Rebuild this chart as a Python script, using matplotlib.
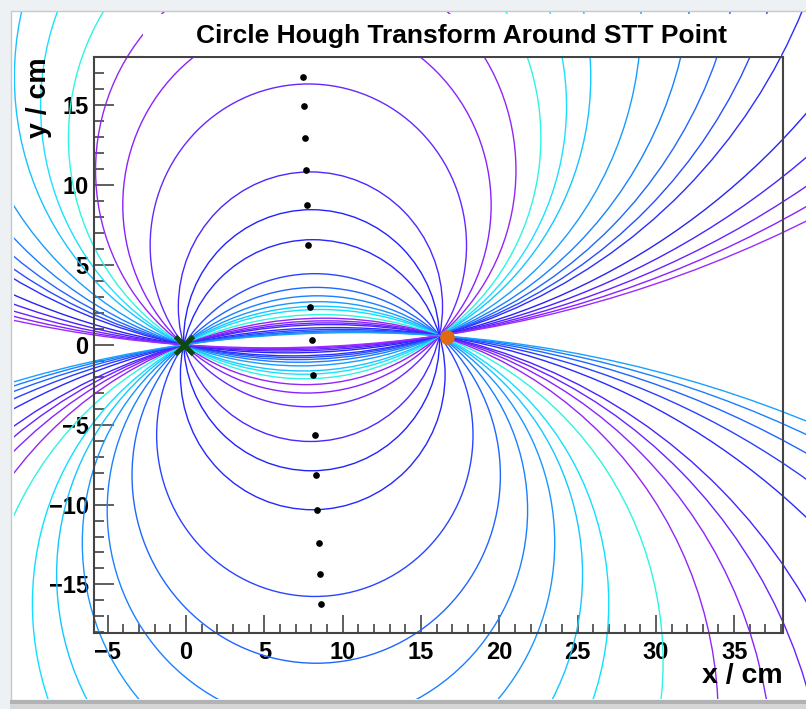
import numpy as np
import matplotlib.pyplot as plt
from matplotlib.patches import Circle, Rectangle
from matplotlib.ticker import MultipleLocator

plt.rcParams['font.family'] = ['Liberation Sans', 'DejaVu Sans']
plt.rcParams['font.weight'] = 'bold'

# track vertex, the point on the isochrone all circles go through, and the STT tube
vertex = (-0.15, 0.0)
hit = (16.18, 0.57)
stt_point = (16.69, 0.48)

# signed distance of each circle centre from the chord midpoint,
# measured along the perpendicular bisector of vertex-hit
upper_offsets = [2.10, 5.94, 8.46, 10.65, 12.68, 14.67, 16.49, 20.15, 23.78,
                 27.30, 30.80, 34.35, 43.27, 51.39, 60.08, 69.00, 77.70]
upper_colors = ['#4b28ff', '#6428ff', '#8a22ff', '#9326f5', '#2ef5e0', '#1ce0ff',
                '#17c4ff', '#1a9cff', '#1a80ff', '#2266ff', '#2a4cff', '#2a2eff',
                '#2a22f0', '#4a22ff', '#6a22ff', '#8a22ff', '#9a2cff']
lower_offsets = [0.0, -2.16, -5.94, -8.46, -10.65, -12.68, -14.67, -16.49, -20.15,
                 -23.78, -27.30, -30.80, -34.35, -43.27, -51.39, -60.08, -69.00, -77.70]
lower_colors = ['#2222ff', '#2626ff', '#2a44ff', '#1e66ff', '#1a80ff', '#1a96ff',
                '#14c8ff', '#10e0ff', '#2ef5e0', '#9326f5', '#8a22ff', '#6a22ff',
                '#4a22ff', '#2a2aff', '#2a40ff', '#1e66ff', '#1a80ff', '#1aa0ff']

W, H = 806, 709
fig = plt.figure(figsize=(W / 100, H / 100), dpi=100, facecolor='#eef1f4')


def box(x0, y0, x1, y1, **kw):
    # rectangle given in pixel coords measured from the top-left corner
    return Rectangle((x0 / W, 1 - y1 / H), (x1 - x0) / W, (y1 - y0) / H,
                     transform=fig.transFigure, **kw)


# canvas with a little shadow underneath
fig.add_artist(box(10.5, 10.5, 820, 700, facecolor='white', edgecolor='#c6c8ca',
                   lw=1.0, zorder=-10))
fig.add_artist(box(10, 700, 820, 704, facecolor='#b0b2b4', lw=0, zorder=-9))
fig.add_artist(box(10, 704, 820, 709, facecolor='#d4d6d8', lw=0, zorder=-9))
pad_clip = box(14, 12, 806, 699, facecolor='none', lw=0)

ax = fig.add_axes([94.3 / W, 1 - 632.7 / H, 688.4 / W, 576 / H])
ax.set_xlim(-5.86, 38.1)
ax.set_ylim(-18.02, 18.03)

ox, oy = vertex
hx, hy = hit
mx, my = (ox + hx) / 2, (oy + hy) / 2
L = np.hypot(hx - ox, hy - oy)
nx, ny = -(hy - oy) / L, (hx - ox) / L

offsets = np.array(upper_offsets + lower_offsets)
colors = upper_colors + lower_colors
cx = mx + offsets * nx
cy = my + offsets * ny
radii = np.hypot(cx - ox, cy - oy)

for x, y, r, col in zip(cx, cy, radii, colors):
    c = ax.add_patch(Circle((x, y), r, fill=False, edgecolor=col, lw=1.0, zorder=2))
    c.set_clip_path(pad_clip)

ax.plot(cx, cy, 'o', color='black', ms=3.8, ls='none', zorder=3)
ax.plot(*vertex, marker='x', color='#0c4a12', ms=13, mew=3.6, ls='none', zorder=5)
ax.plot(*stt_point, marker='o', color='#df6a12', ms=10.5, mew=0, ls='none', zorder=5)

ax.xaxis.set_major_locator(MultipleLocator(5))
ax.xaxis.set_minor_locator(MultipleLocator(1))
ax.yaxis.set_major_locator(MultipleLocator(5))
ax.yaxis.set_minor_locator(MultipleLocator(1))
ax.tick_params(which='both', direction='in', top=False, right=False,
               color='#333333', width=1.1, labelsize=17, labelcolor='black')
ax.tick_params(axis='x', which='major', length=12.7, pad=6)
ax.tick_params(axis='x', which='minor', length=6.3)
ax.tick_params(axis='y', which='major', length=14.4, pad=4)
ax.tick_params(axis='y', which='minor', length=7.2)
for s in ax.spines.values():
    s.set_linewidth(1.5)
    s.set_color('#444444')
    s.set_zorder(6)

# title pave hides whatever runs behind it
fig.add_artist(box(143, 14, 781, 55.5, facecolor='white', lw=0, zorder=2))
fig.text(461.5 / W, 1 - 43.3 / H, 'Circle Hough Transform Around STT Point',
         ha='center', va='baseline', fontsize=19, fontweight='bold', zorder=4)
fig.text(783 / W, 1 - 683 / H, 'x / cm', ha='right', va='baseline',
         fontsize=20.5, fontweight='bold')
fig.text(38.5 / W, 1 - 57 / H, 'y / cm', ha='center', va='top', rotation=90,
         fontsize=20.5, fontweight='bold')

fig.savefig('out.png', dpi=100, facecolor=fig.get_facecolor())
